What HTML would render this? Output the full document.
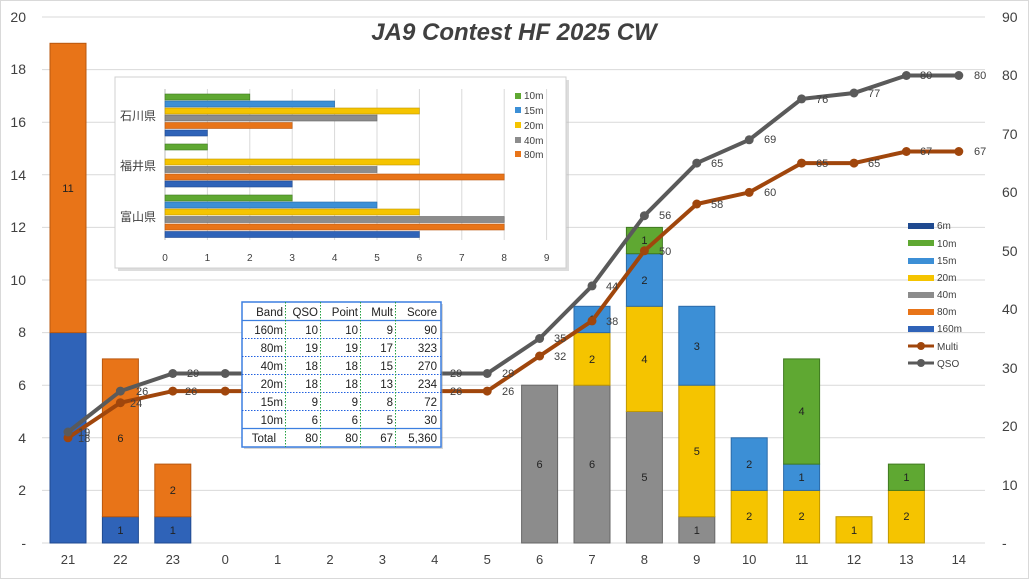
<!DOCTYPE html><html><head><meta charset="utf-8"><style>
body{margin:0;background:#fff}
svg{font-family:"Liberation Sans","Noto Sans CJK JP",sans-serif;display:block}
</style></head><body>
<svg width="1029" height="579" viewBox="0 0 1029 579">
<rect x="0.5" y="0.5" width="1028" height="578" fill="#fff" stroke="#d9d9d9"/>
<g stroke="#d9d9d9" stroke-width="1">
<line x1="42" x2="985" y1="17" y2="17"/><line x1="42" x2="985" y1="69.6" y2="69.6"/><line x1="42" x2="985" y1="122.2" y2="122.2"/><line x1="42" x2="985" y1="174.8" y2="174.8"/><line x1="42" x2="985" y1="227.4" y2="227.4"/><line x1="42" x2="985" y1="280" y2="280"/><line x1="42" x2="985" y1="332.6" y2="332.6"/><line x1="42" x2="985" y1="385.2" y2="385.2"/><line x1="42" x2="985" y1="437.8" y2="437.8"/><line x1="42" x2="985" y1="490.4" y2="490.4"/><line x1="42" x2="985" y1="543" y2="543"/>
</g>
<g font-size="14" fill="#404040" text-anchor="end">
<text x="26" y="22">20</text><text x="26" y="74">18</text><text x="26" y="127">16</text><text x="26" y="180">14</text><text x="26" y="232">12</text><text x="26" y="285">10</text><text x="26" y="337">8</text><text x="26" y="390">6</text><text x="26" y="443">4</text><text x="26" y="495">2</text><text x="26" y="548">-</text>
</g>
<g font-size="14" fill="#404040" text-anchor="start">
<text x="1002" y="22">90</text><text x="1002" y="80">80</text><text x="1002" y="139">70</text><text x="1002" y="197">60</text><text x="1002" y="256">50</text><text x="1002" y="314">40</text><text x="1002" y="373">30</text><text x="1002" y="431">20</text><text x="1002" y="490">10</text><text x="1002" y="548">-</text>
</g>
<g font-size="13" fill="#404040" text-anchor="middle">
<text x="68" y="564">21</text><text x="120.4" y="564">22</text><text x="172.8" y="564">23</text><text x="225.2" y="564">0</text><text x="277.6" y="564">1</text><text x="330" y="564">2</text><text x="382.4" y="564">3</text><text x="434.8" y="564">4</text><text x="487.2" y="564">5</text><text x="539.6" y="564">6</text><text x="592" y="564">7</text><text x="644.4" y="564">8</text><text x="696.8" y="564">9</text><text x="749.2" y="564">10</text><text x="801.6" y="564">11</text><text x="854" y="564">12</text><text x="906.4" y="564">13</text><text x="958.8" y="564">14</text>
</g>
<text x="514" y="40" font-size="24" font-weight="bold" font-style="italic" fill="#404040" text-anchor="middle">JA9 Contest HF 2025 CW</text>
<g stroke-width="1">
<!-- 21 -->
<rect x="50" y="332.6" width="36" height="210.4" fill="#2f63b8" stroke="#1f4a90"/>
<rect x="50" y="43.3" width="36" height="289.3" fill="#e87418" stroke="#b85810"/>
<!-- 22 -->
<rect x="102.4" y="516.7" width="36" height="26.3" fill="#2f63b8" stroke="#1f4a90"/>
<rect x="102.4" y="358.9" width="36" height="157.8" fill="#e87418" stroke="#b85810"/>
<!-- 23 -->
<rect x="154.8" y="516.7" width="36" height="26.3" fill="#2f63b8" stroke="#1f4a90"/>
<rect x="154.8" y="464.1" width="36" height="52.6" fill="#e87418" stroke="#b85810"/>
<!-- 6 -->
<rect x="521.6" y="385.2" width="36" height="157.8" fill="#8c8c8c" stroke="#666"/>
<!-- 7 -->
<rect x="574" y="385.2" width="36" height="157.8" fill="#8c8c8c" stroke="#666"/>
<rect x="574" y="332.6" width="36" height="52.6" fill="#f5c400" stroke="#c09800"/>
<rect x="574" y="306.3" width="36" height="26.3" fill="#3c8fd6" stroke="#2a6aa8"/>
<!-- 8 -->
<rect x="626.4" y="411.5" width="36" height="131.5" fill="#8c8c8c" stroke="#666"/>
<rect x="626.4" y="306.3" width="36" height="105.2" fill="#f5c400" stroke="#c09800"/>
<rect x="626.4" y="253.7" width="36" height="52.6" fill="#3c8fd6" stroke="#2a6aa8"/>
<rect x="626.4" y="227.4" width="36" height="26.3" fill="#5fa832" stroke="#3f7a20"/>
<!-- 9 -->
<rect x="678.8" y="516.7" width="36" height="26.3" fill="#8c8c8c" stroke="#666"/>
<rect x="678.8" y="385.2" width="36" height="131.5" fill="#f5c400" stroke="#c09800"/>
<rect x="678.8" y="306.3" width="36" height="78.9" fill="#3c8fd6" stroke="#2a6aa8"/>
<!-- 10 -->
<rect x="731.2" y="490.4" width="36" height="52.6" fill="#f5c400" stroke="#c09800"/>
<rect x="731.2" y="437.8" width="36" height="52.6" fill="#3c8fd6" stroke="#2a6aa8"/>
<!-- 11 -->
<rect x="783.6" y="490.4" width="36" height="52.6" fill="#f5c400" stroke="#c09800"/>
<rect x="783.6" y="464.1" width="36" height="26.3" fill="#3c8fd6" stroke="#2a6aa8"/>
<rect x="783.6" y="358.9" width="36" height="105.2" fill="#5fa832" stroke="#3f7a20"/>
<!-- 12 -->
<rect x="836" y="516.7" width="36" height="26.3" fill="#f5c400" stroke="#c09800"/>
<!-- 13 -->
<rect x="888.4" y="490.4" width="36" height="52.6" fill="#f5c400" stroke="#c09800"/>
<rect x="888.4" y="464.1" width="36" height="26.3" fill="#5fa832" stroke="#3f7a20"/>
</g>
<g font-size="11" fill="#222" text-anchor="middle">
<text x="68" y="442">8</text><text x="68" y="192">11</text>
<text x="120.4" y="534">1</text><text x="120.4" y="442">6</text>
<text x="172.8" y="534">1</text><text x="172.8" y="494">2</text>
<text x="539.6" y="468">6</text>
<text x="592" y="468">6</text><text x="592" y="363">2</text><text x="592" y="323">1</text>
<text x="644.4" y="481">5</text><text x="644.4" y="363">4</text><text x="644.4" y="284">2</text><text x="644.4" y="244">1</text>
<text x="696.8" y="534">1</text><text x="696.8" y="455">5</text><text x="696.8" y="350">3</text>
<text x="749.2" y="520">2</text><text x="749.2" y="468">2</text>
<text x="801.6" y="520">2</text><text x="801.6" y="481">1</text><text x="801.6" y="415">4</text>
<text x="854" y="534">1</text>
<text x="906.4" y="520">2</text><text x="906.4" y="481">1</text>
</g>
<polyline fill="none" stroke="#a0460c" stroke-width="4" points="68,437.8 120.4,402.7 172.8,391.1 225.2,391.1 277.6,391.1 330,391.1 382.4,391.1 434.8,391.1 487.2,391.1 539.6,356 592,320.9 644.4,250.8 696.8,204 749.2,192.4 801.6,163.1 854,163.1 906.4,151.5 958.8,151.5"/>
<polyline fill="none" stroke="#5a5a5a" stroke-width="4" points="68,432 120.4,391.1 172.8,373.5 225.2,373.5 277.6,373.5 330,373.5 382.4,373.5 434.8,373.5 487.2,373.5 539.6,338.5 592,285.9 644.4,215.7 696.8,163.1 749.2,139.8 801.6,98.9 854,93 906.4,75.5 958.8,75.5"/>
<g fill="#a0460c">
<circle cx="68" cy="437.8" r="4.5"/><circle cx="120.4" cy="402.7" r="4.5"/><circle cx="172.8" cy="391.1" r="4.5"/><circle cx="225.2" cy="391.1" r="4.5"/><circle cx="487.2" cy="391.1" r="4.5"/><circle cx="539.6" cy="356" r="4.5"/><circle cx="592" cy="320.9" r="4.5"/><circle cx="644.4" cy="250.8" r="4.5"/><circle cx="696.8" cy="204" r="4.5"/><circle cx="749.2" cy="192.4" r="4.5"/><circle cx="801.6" cy="163.1" r="4.5"/><circle cx="854" cy="163.1" r="4.5"/><circle cx="906.4" cy="151.5" r="4.5"/><circle cx="958.8" cy="151.5" r="4.5"/>
</g>
<g fill="#5a5a5a">
<circle cx="68" cy="432" r="4.5"/><circle cx="120.4" cy="391.1" r="4.5"/><circle cx="172.8" cy="373.5" r="4.5"/><circle cx="225.2" cy="373.5" r="4.5"/><circle cx="487.2" cy="373.5" r="4.5"/><circle cx="539.6" cy="338.5" r="4.5"/><circle cx="592" cy="285.9" r="4.5"/><circle cx="644.4" cy="215.7" r="4.5"/><circle cx="696.8" cy="163.1" r="4.5"/><circle cx="749.2" cy="139.8" r="4.5"/><circle cx="801.6" cy="98.9" r="4.5"/><circle cx="854" cy="93" r="4.5"/><circle cx="906.4" cy="75.5" r="4.5"/><circle cx="958.8" cy="75.5" r="4.5"/>
</g>
<g font-size="11" fill="#404040">
<text x="78" y="442">18</text><text x="130" y="407">24</text><text x="185" y="395">26</text><text x="450" y="395">26</text><text x="502" y="395">26</text><text x="554" y="360">32</text><text x="606" y="325">38</text><text x="659" y="255">50</text><text x="711" y="208">58</text><text x="764" y="196">60</text><text x="816" y="167">65</text><text x="868" y="167">65</text><text x="920" y="155">67</text><text x="974" y="155">67</text>
<text x="78" y="436">19</text><text x="136" y="395">26</text><text x="187" y="377">29</text><text x="450" y="377">29</text><text x="502" y="377">29</text><text x="554" y="342">35</text><text x="606" y="290">44</text><text x="659" y="219">56</text><text x="711" y="167">65</text><text x="764" y="143">69</text><text x="816" y="103">76</text><text x="868" y="97">77</text><text x="920" y="79">80</text><text x="974" y="79">80</text>
</g>
<!-- inset -->
<rect x="118" y="80" width="451" height="191" fill="#bbb" opacity="0.5"/>
<rect x="115" y="77" width="451" height="191" fill="#fff" stroke="#d0d0d0"/>
<g stroke="#d9d9d9"><line x1="207.4" x2="207.4" y1="89" y2="240"/><line x1="249.8" x2="249.8" y1="89" y2="240"/><line x1="292.2" x2="292.2" y1="89" y2="240"/><line x1="334.6" x2="334.6" y1="89" y2="240"/><line x1="377" x2="377" y1="89" y2="240"/><line x1="419.4" x2="419.4" y1="89" y2="240"/><line x1="461.8" x2="461.8" y1="89" y2="240"/><line x1="504.2" x2="504.2" y1="89" y2="240"/><line x1="546.6" x2="546.6" y1="89" y2="240"/><line x1="165" x2="165" y1="89" y2="240" stroke="#bbb"/></g>
<g stroke-width="0.6">
<rect x="165" y="94" width="84.8" height="6" fill="#5fa832" stroke="#3f7a20"/>
<rect x="165" y="101" width="169.6" height="6" fill="#3c8fd6" stroke="#2a6aa8"/>
<rect x="165" y="108" width="254.4" height="6" fill="#f5c400" stroke="#c09800"/>
<rect x="165" y="115" width="212" height="6" fill="#8c8c8c" stroke="#666"/>
<rect x="165" y="122.5" width="127.2" height="6" fill="#e87418" stroke="#b85810"/>
<rect x="165" y="130" width="42.4" height="6" fill="#2f63b8" stroke="#1f4a90"/>
<rect x="165" y="144" width="42.4" height="6" fill="#5fa832" stroke="#3f7a20"/>
<rect x="165" y="159" width="254.4" height="6" fill="#f5c400" stroke="#c09800"/>
<rect x="165" y="166.5" width="212" height="6" fill="#8c8c8c" stroke="#666"/>
<rect x="165" y="174" width="339.2" height="6" fill="#e87418" stroke="#b85810"/>
<rect x="165" y="181" width="127.2" height="6" fill="#2f63b8" stroke="#1f4a90"/>
<rect x="165" y="195" width="127.2" height="6" fill="#5fa832" stroke="#3f7a20"/>
<rect x="165" y="202" width="212" height="6" fill="#3c8fd6" stroke="#2a6aa8"/>
<rect x="165" y="209" width="254.4" height="6" fill="#f5c400" stroke="#c09800"/>
<rect x="165" y="216.5" width="339.2" height="6" fill="#8c8c8c" stroke="#666"/>
<rect x="165" y="224" width="339.2" height="6" fill="#e87418" stroke="#b85810"/>
<rect x="165" y="231.5" width="254.4" height="6" fill="#2f63b8" stroke="#1f4a90"/>
</g>
<g font-size="12" fill="#404040">
<text x="120" y="120">石川県</text><text x="120" y="170">福井県</text><text x="120" y="221">富山県</text>
</g>
<g font-size="10" fill="#404040" text-anchor="middle">
<text x="165" y="261">0</text><text x="207.4" y="261">1</text><text x="249.8" y="261">2</text><text x="292.2" y="261">3</text><text x="334.6" y="261">4</text><text x="377" y="261">5</text><text x="419.4" y="261">6</text><text x="461.8" y="261">7</text><text x="504.2" y="261">8</text><text x="546.6" y="261">9</text>
</g>
<g font-size="10" fill="#404040">
<rect x="515" y="93" width="6" height="6" fill="#5fa832"/><text x="524" y="99">10m</text>
<rect x="515" y="107" width="6" height="6" fill="#3c8fd6"/><text x="524" y="114">15m</text>
<rect x="515" y="122" width="6" height="6" fill="#f5c400"/><text x="524" y="129">20m</text>
<rect x="515" y="137" width="6" height="6" fill="#8c8c8c"/><text x="524" y="144">40m</text>
<rect x="515" y="151" width="6" height="6" fill="#e87418"/><text x="524" y="158">80m</text>
</g>
<!-- legend -->
<g font-size="10" fill="#404040">
<rect x="908" y="223" width="26" height="6" fill="#1f4a90"/><text x="937" y="229">6m</text>
<rect x="908" y="240" width="26" height="6" fill="#5fa832"/><text x="937" y="247">10m</text>
<rect x="908" y="258" width="26" height="6" fill="#3c8fd6"/><text x="937" y="264">15m</text>
<rect x="908" y="275" width="26" height="6" fill="#f5c400"/><text x="937" y="281">20m</text>
<rect x="908" y="292" width="26" height="6" fill="#8c8c8c"/><text x="937" y="298">40m</text>
<rect x="908" y="309" width="26" height="6" fill="#e87418"/><text x="937" y="315">80m</text>
<rect x="908" y="326" width="26" height="6" fill="#2f63b8"/><text x="937" y="332">160m</text>
<line x1="908" x2="934" y1="346" y2="346" stroke="#a0460c" stroke-width="3"/><circle cx="921" cy="346" r="4" fill="#a0460c"/><text x="937" y="350">Multi</text>
<line x1="908" x2="934" y1="363" y2="363" stroke="#5a5a5a" stroke-width="3"/><circle cx="921" cy="363" r="4" fill="#5a5a5a"/><text x="937" y="367">QSO</text>
</g>
<!-- table -->
<rect x="244" y="304" width="199" height="145" fill="#999" opacity="0.4"/>
<rect x="242" y="302" width="199" height="145" fill="#fff" stroke="#3c7fe0" stroke-width="1.5"/>
<g stroke="#2060e0" stroke-dasharray="1.5,1.5"><line x1="242" x2="441" y1="338.5" y2="338.5"/><line x1="242" x2="441" y1="356.5" y2="356.5"/><line x1="242" x2="441" y1="374.5" y2="374.5"/><line x1="242" x2="441" y1="392.5" y2="392.5"/><line x1="242" x2="441" y1="410.5" y2="410.5"/></g>
<g stroke="#3c7fe0" stroke-width="1.2"><line x1="242" x2="441" y1="320.5" y2="320.5"/><line x1="242" x2="441" y1="428.5" y2="428.5"/></g>
<g stroke="#20a040" stroke-dasharray="1.5,1.5"><line x1="285.5" x2="285.5" y1="302" y2="447"/><line x1="320.5" x2="320.5" y1="302" y2="447"/><line x1="360.5" x2="360.5" y1="302" y2="447"/><line x1="395.5" x2="395.5" y1="302" y2="447"/></g>
<g font-size="11.5" fill="#222" text-anchor="end">
<text x="283" y="316">Band</text><text x="318" y="316">QSO</text><text x="358" y="316">Point</text><text x="393" y="316">Mult</text><text x="437" y="316">Score</text>
<text x="283" y="334">160m</text><text x="318" y="334">10</text><text x="358" y="334">10</text><text x="393" y="334">9</text><text x="437" y="334">90</text>
<text x="283" y="352">80m</text><text x="318" y="352">19</text><text x="358" y="352">19</text><text x="393" y="352">17</text><text x="437" y="352">323</text>
<text x="283" y="370">40m</text><text x="318" y="370">18</text><text x="358" y="370">18</text><text x="393" y="370">15</text><text x="437" y="370">270</text>
<text x="283" y="388">20m</text><text x="318" y="388">18</text><text x="358" y="388">18</text><text x="393" y="388">13</text><text x="437" y="388">234</text>
<text x="283" y="406">15m</text><text x="318" y="406">9</text><text x="358" y="406">9</text><text x="393" y="406">8</text><text x="437" y="406">72</text>
<text x="283" y="424">10m</text><text x="318" y="424">6</text><text x="358" y="424">6</text><text x="393" y="424">5</text><text x="437" y="424">30</text>
<text x="276" y="442">Total</text><text x="318" y="442">80</text><text x="358" y="442">80</text><text x="393" y="442">67</text><text x="437" y="442">5,360</text>
</g>
</svg>
</body></html>
